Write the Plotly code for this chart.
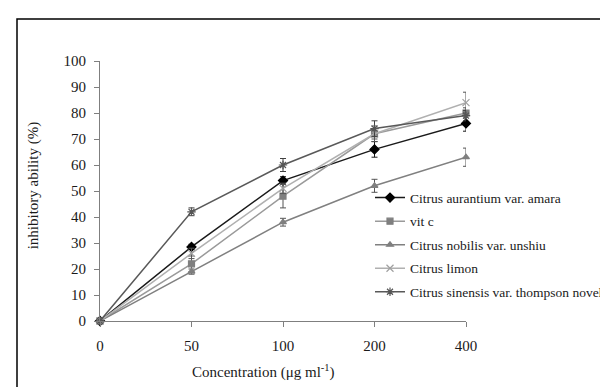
import plotly.graph_objects as go

concentrations = ["0", "50", "100", "200", "400"]

series_names = [
    "Citrus aurantium var. amara",
    "vit c",
    "Citrus nobilis var. unshiu",
    "Citrus limon",
    "Citrus sinensis var. thompson novel",
]

aurantium = [0, 28.5, 54, 66, 76]
vitc = [0, 22, 48, 72, 80]
nobilis = [0, 19, 38, 52, 63]
limon = [0, 26, 51, 72, 84]
sinensis = [0, 42, 60, 74, 79]

aurantium_err = [0, 1, 1.5, 3, 3]
vitc_err = [0, 3, 4.5, 2, 2]
nobilis_err = [0, 1, 1.5, 2.5, 3.5]
limon_err = [0, 2, 2, 3, 4]
sinensis_err = [0, 1.5, 2.5, 3, 2]

values = [aurantium, vitc, nobilis, limon, sinensis]
errors = [aurantium_err, vitc_err, nobilis_err, limon_err, sinensis_err]

styles = [
    dict(symbol="diamond", mcolor="#000000", lcolor="#1a1a1a", ecolor="#1a1a1a", size=7),
    dict(symbol="square", mcolor="#7f7f7f", lcolor="#9a9a9a", ecolor="#555555", size=6),
    dict(symbol="triangle-up", mcolor="#7f7f7f", lcolor="#808080", ecolor="#555555", size=6),
    dict(symbol="x-thin-open", mcolor="#a0a0a0", lcolor="#b0b0b0", ecolor="#555555", size=7),
    dict(symbol="asterisk-open", mcolor="#555555", lcolor="#595959", ecolor="#404040", size=7),
]

FONT = "Liberation Serif"

fig = go.Figure()
for i, (name, vals, errs, st) in enumerate(zip(series_names, values, errors, styles)):
    fig.add_trace(go.Scatter(
        x=concentrations, y=vals, name=name, mode="lines+markers",
        legendgroup=f"g{i}",
        line=dict(color=st["lcolor"], width=1.5),
        marker=dict(symbol=st["symbol"], color=st["mcolor"], size=st["size"],
                    line=dict(color=st["mcolor"], width=1.2)),
        error_y=dict(type="data", array=errs, visible=True,
                     color=st["ecolor"], thickness=1, width=3),
        cliponaxis=False,
    ))

L, R, T, B = 92, 458, 52.7, 312.7
W, H = 608, 387
pw, ph = R - L, B - T

def px(x):
    return (x - L) / pw

def py(y):
    return (B - y) / ph

fig.update_layout(
    width=W, height=H,
    margin=dict(l=L, r=W - R, t=T, b=H - B, pad=0, autoexpand=False),
    paper_bgcolor="white", plot_bgcolor="white",
    font=dict(family=FONT, size=15, color="#1a1a1a"),
    showlegend=True,
    legend=dict(x=px(362), y=py(174), xanchor="left", yanchor="top",
                font=dict(family=FONT, size=13.5, color="#1a1a1a"),
                itemwidth=30, tracegroupgap=3, bgcolor="rgba(0,0,0,0)"),
    xaxis=dict(type="category", range=[0, 4], showgrid=False, zeroline=False,
               showline=True, linecolor="#7f7f7f", linewidth=1,
               ticks="outside", ticklen=5, tickcolor="#7f7f7f",
               ticklabelstandoff=6, tickfont=dict(family=FONT, size=15)),
    yaxis=dict(range=[0, 100], dtick=10, showgrid=False, zeroline=False,
               showline=True, linecolor="#7f7f7f", linewidth=1,
               ticks="outside", ticklen=5, tickcolor="#7f7f7f",
               ticklabelstandoff=5, tickfont=dict(family=FONT, size=15)),
    annotations=[
        dict(text="Concentration (μg ml<sup>-1</sup>)", xref="paper", yref="paper",
             x=px(255), y=py(363), showarrow=False, xanchor="center", yanchor="middle",
             font=dict(family=FONT, size=15, color="#1a1a1a")),
        dict(text="inhibitory ability (%)", xref="paper", yref="paper",
             x=px(25), y=py(178), showarrow=False, textangle=-90,
             xanchor="center", yanchor="middle",
             font=dict(family=FONT, size=15, color="#1a1a1a")),
    ],
    shapes=[
        dict(type="rect", xref="paper", yref="paper",
             x0=px(9), x1=px(640), y0=py(420), y1=py(10.7),
             line=dict(color="#000000", width=1.5), layer="below"),
    ],
)

fig.write_html("out.html")
